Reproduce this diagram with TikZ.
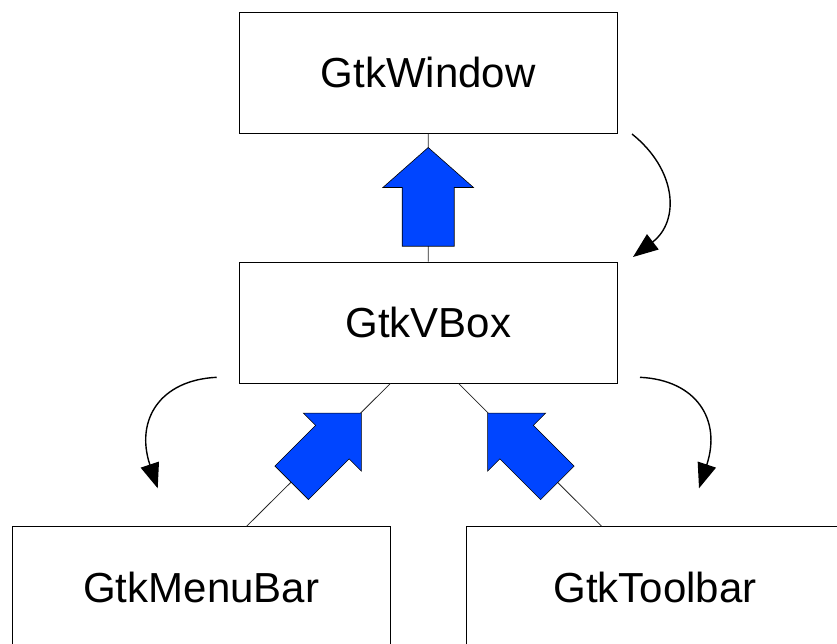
\documentclass[tikz,border=0pt]{standalone}
\usepackage{fontspec}
\setmainfont{Liberation Sans}
\usetikzlibrary{arrows.meta,calc}
\definecolor{arrowblue}{RGB}{0,69,255}
\begin{document}
\begin{tikzpicture}[x=1pt,y=-1pt,
  box/.style={draw=black, line width=1pt, minimum width=378pt, minimum height=121pt, inner sep=0pt, font=\fontsize{42}{50}\selectfont},
  link/.style={draw=black!85, line width=0.8pt},
  bigarrow/.style={fill=arrowblue, draw=black, line width=0.6pt, line join=miter},
  curved/.style={line width=1.4pt, -{Triangle[length=25pt,width=19pt]}}
]
\useasboundingbox (0,0) rectangle (837,643);
\clip (0,0) rectangle (837,643);

\node[box] (win) at (428.2,72.5) {GtkWindow};
\node[box] (vbox) at (428.3,322.5) {GtkVBox};
\node[box] (menu) at (201.2,587.2) {GtkMenuBar};
\node[box] (tool) at (655,587.2) {GtkToolbar};

% connectors
\coordinate (vbL) at ($(vbox.south west)!0.4!(vbox.south east)$);
\coordinate (vbR) at ($(vbox.south west)!0.58!(vbox.south east)$);
\coordinate (mnT) at ($(menu.north west)!0.62!(menu.north east)$);
\coordinate (tlT) at ($(tool.north west)!0.359!(tool.north east)$);

\draw[link] (win.south) -- (vbox.north);
\draw[link] (vbL) -- (mnT);
\draw[link] (vbR) -- (tlT);

% block arrows
\coordinate (tipU) at ($(win.south)+(0,14)$);
\coordinate (tipL) at ($(vbL)+(-29,29.6)$);
\coordinate (tipR) at ($(vbR)+(29,29.6)$);

\path[bigarrow, shift={(tipU)}] (0,0) -- (45.3,40) -- (26,40) -- (26,98.7) -- (-26,98.7) -- (-26,40) -- (-45.3,40) -- cycle;
\path[bigarrow, shift={(tipL)}, rotate=-45] (0,0) -- (41,41) -- (23.7,41) -- (23.7,98.6) -- (-23.7,98.6) -- (-23.7,41) -- (-41,41) -- cycle;
\path[bigarrow, shift={(tipR)}, rotate=45] (0,0) -- (41,41) -- (23.7,41) -- (23.7,98.6) -- (-23.7,98.6) -- (-23.7,41) -- (-41,41) -- cycle;

% curved arrows
\coordinate (c1s) at (632,134);
\coordinate (c1e) at (633,257);
\coordinate (c2s) at (216.7,377.3);
\coordinate (c2e) at (157.7,488.3);
\coordinate (c3s) at (640,377.3);
\coordinate (c3e) at (699,488.3);

\draw[curved] (c1s) .. controls (677,170) and (680,221) .. (c1e);
\draw[curved] (c2s) .. controls (160,380) and (135,420) .. (c2e);
\draw[curved] (c3s) .. controls (696.6,380) and (721.6,420) .. (c3e);
\end{tikzpicture}
\end{document}
